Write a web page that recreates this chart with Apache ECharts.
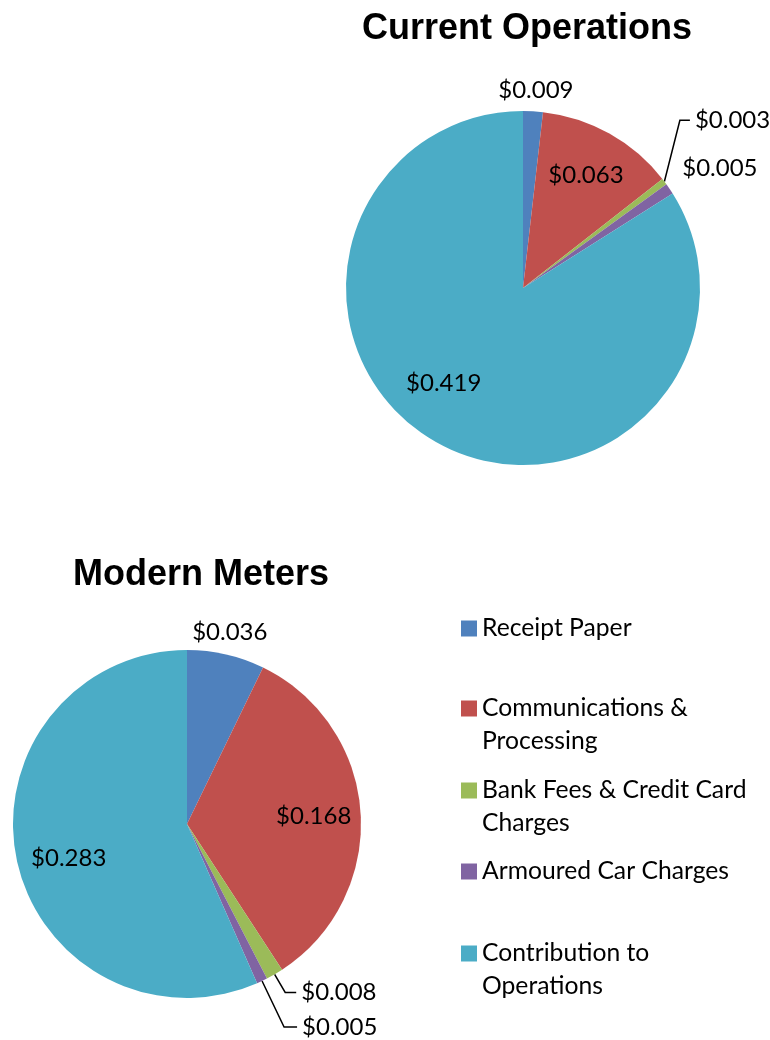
<!DOCTYPE html>
<html>
<head>
<meta charset="utf-8">
<script src="https://cdn.jsdelivr.net/npm/echarts@6/dist/echarts.min.js"></script>
<style>
html, body { margin: 0; padding: 0; background: #fff; }
#chart { width: 770px; height: 1040px; }
</style>
</head>
<body>
<div id="chart"></div>
<script>
var categories = ['Receipt Paper', 'Communications & Processing', 'Bank Fees & Credit Card Charges', 'Armoured Car Charges', 'Contribution to Operations'];
var legendLabels = ['Receipt Paper', 'Communications &\nProcessing', 'Bank Fees & Credit Card\nCharges', 'Armoured Car Charges', 'Contribution to\nOperations'];
var currentValues = [0.009, 0.063, 0.003, 0.005, 0.419];
var modernValues = [0.036, 0.168, 0.008, 0.005, 0.283];
var colors = ['#4F81BD', '#C0504D', '#9BBB59', '#8064A2', '#4BACC6'];

var labelFont = { color: '#000', fontFamily: 'Lato', fontSize: 24 };
var titleFont = { color: '#000', fontFamily: 'Liberation Sans', fontWeight: 'bold', fontSize: 36 };

function fmt(v) {
    return '$' + v.toFixed(3);
}

// outside labels: l1/l2 = leader lengths, line = draw leader
function pieSeries(values, center, radius, outside, bendIndex) {
    return {
        type: 'pie',
        center: center,
        radius: radius,
        startAngle: 90,
        clockwise: true,
        avoidLabelOverlap: false,
        silent: true,
        label: Object.assign({ formatter: function (p) { return fmt(p.value); } }, labelFont),
        labelLine: { lineStyle: { color: '#000', width: 1.5 }, smooth: false },
        labelLayout: function (p) {
            if (p.dataIndex !== bendIndex || !p.labelLinePoints) return {};
            var pts = p.labelLinePoints;
            return { labelLinePoints: [pts[0], [pts[2][0] - 10, pts[2][1]], pts[2]] };
        },
        data: values.map(function (v, i) {
            var o = outside[i];
            var item = { name: categories[i], value: v, itemStyle: { color: colors[i] } };
            if (o) {
                item.label = { show: true, position: 'outside' };
                item.labelLine = { show: o.line, length: o.l1, length2: o.l2 };
            } else {
                item.label = { show: false };
                item.labelLine = { show: false };
            }
            return item;
        })
    };
}

// transparent copy so inside labels sit further out than mid-radius
function innerLabels(values, center, radius, outside, nudge) {
    return {
        type: 'pie',
        center: center,
        radius: [0, radius],
        startAngle: 90,
        clockwise: true,
        silent: true,
        avoidLabelOverlap: false,
        label: Object.assign({ position: 'inside', formatter: function (p) { return fmt(p.value); } }, labelFont),
        labelLine: { show: false },
        labelLayout: function (p) {
            return nudge[p.dataIndex] || {};
        },
        data: values.map(function (v, i) {
            return {
                name: categories[i],
                value: v,
                itemStyle: { color: 'rgba(0,0,0,0)' },
                label: { show: !outside[i] }
            };
        })
    };
}

var currentOutside = { 0: { l1: 21, l2: -41, line: false }, 2: { l1: 102, l2: -56, line: true }, 3: { l1: 37, l2: -23, line: false } };
var modernOutside = { 0: { l1: 23, l2: -44, line: false }, 2: { l1: 21, l2: 11, line: true }, 3: { l1: 51, l2: 13, line: true } };

var legendTops = [612, 659, 741, 855, 904];
var legends = categories.map(function (name, i) {
    var text = legendLabels[i];
    // a blank first line keeps the icon level with the first text line
    if (text.indexOf('\n') >= 0) text = '\n' + text;
    return {
        data: [name],
        orient: 'vertical',
        left: 461,
        top: legendTops[i],
        padding: 0,
        icon: 'rect',
        itemWidth: 16,
        itemHeight: 16,
        selectedMode: false,
        formatter: function () { return text; },
        textStyle: { color: '#000', fontFamily: 'Lato', fontSize: 24.7, lineHeight: 33 }
    };
});

var myChart = echarts.init(document.getElementById('chart'));
var option = {
    animation: false,
    backgroundColor: '#fff',
    title: [
        { text: 'Current Operations', left: 522, top: 6, textAlign: 'center', textStyle: titleFont },
        { text: 'Modern Meters', left: 196, top: 552, textAlign: 'center', textStyle: titleFont }
    ],
    legend: legends,
    series: [
        pieSeries(currentValues, [523, 288], 177, currentOutside, 2),
        pieSeries(modernValues, [187, 824], 174, modernOutside, -1),
        innerLabels(currentValues, [523, 288], 252, currentOutside, { 4: { dx: -17, dy: -18 } }),
        innerLabels(modernValues, [187, 824], 248, modernOutside, { 4: { dx: 6, dy: 8 } })
    ]
};
myChart.setOption(option);
</script>
</body>
</html>
